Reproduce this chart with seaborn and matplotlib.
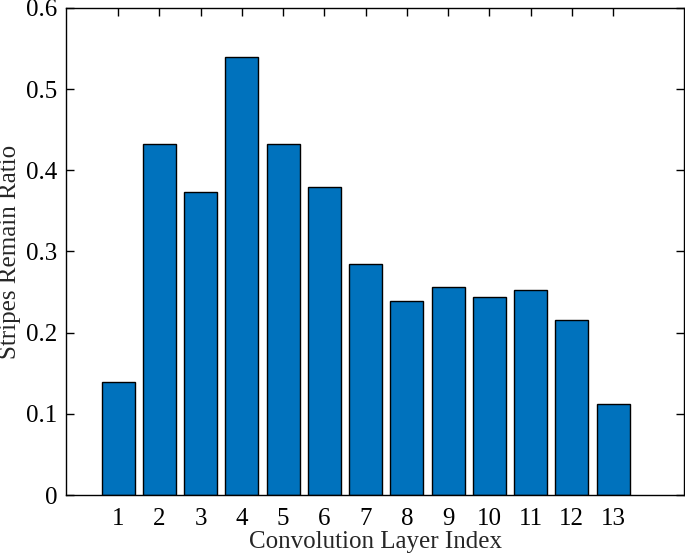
import numpy as np
import pandas as pd
import matplotlib
matplotlib.use("Agg")
import matplotlib.pyplot as plt
import seaborn as sns

# Values
layers = [str(i) for i in range(1, 14)]
remain_ratio = [0.139, 0.432, 0.373, 0.539, 0.432, 0.379, 0.284,
                0.239, 0.256, 0.244, 0.252, 0.216, 0.112]
y_ticks = [0, 0.1, 0.2, 0.3, 0.4, 0.5, 0.6]
y_tick_labels = ["0", "0.1", "0.2", "0.3", "0.4", "0.5", "0.6"]

sns.set_style("ticks")
plt.rcParams['font.family'] = ['Liberation Serif', 'DejaVu Serif']

df = pd.DataFrame({'layer': layers, 'ratio': remain_ratio})

fig = plt.figure(figsize=(6.85, 5.56), dpi=100)
ax = fig.add_axes([0.0964, 0.1097, 0.9021, 0.876])

sns.barplot(data=df, x='layer', y='ratio', color='#0072BD', saturation=1,
            width=0.8, edgecolor='black', linewidth=1.0, ax=ax)

ax.set_xlim(-1.26, 13.72)
ax.set_ylim(0, 0.6)
ax.set_yticks(y_ticks)
ax.set_yticklabels(y_tick_labels)

ax.tick_params(direction='in', top=True, right=True, length=6, width=1,
               labelsize=18, colors='black')
ax.tick_params(axis='x', pad=9)
ax.tick_params(axis='y', pad=6)
for side in ['top', 'right', 'bottom', 'left']:
    ax.spines[side].set_visible(True)
    ax.spines[side].set_linewidth(1.0)
    ax.spines[side].set_color('black')

ax.set_xlabel('Convolution Layer Index', fontsize=18, labelpad=1)
ax.set_ylabel('Stripes Remain Ratio', fontsize=18, labelpad=4)

fig.savefig('out.png', dpi=100)
